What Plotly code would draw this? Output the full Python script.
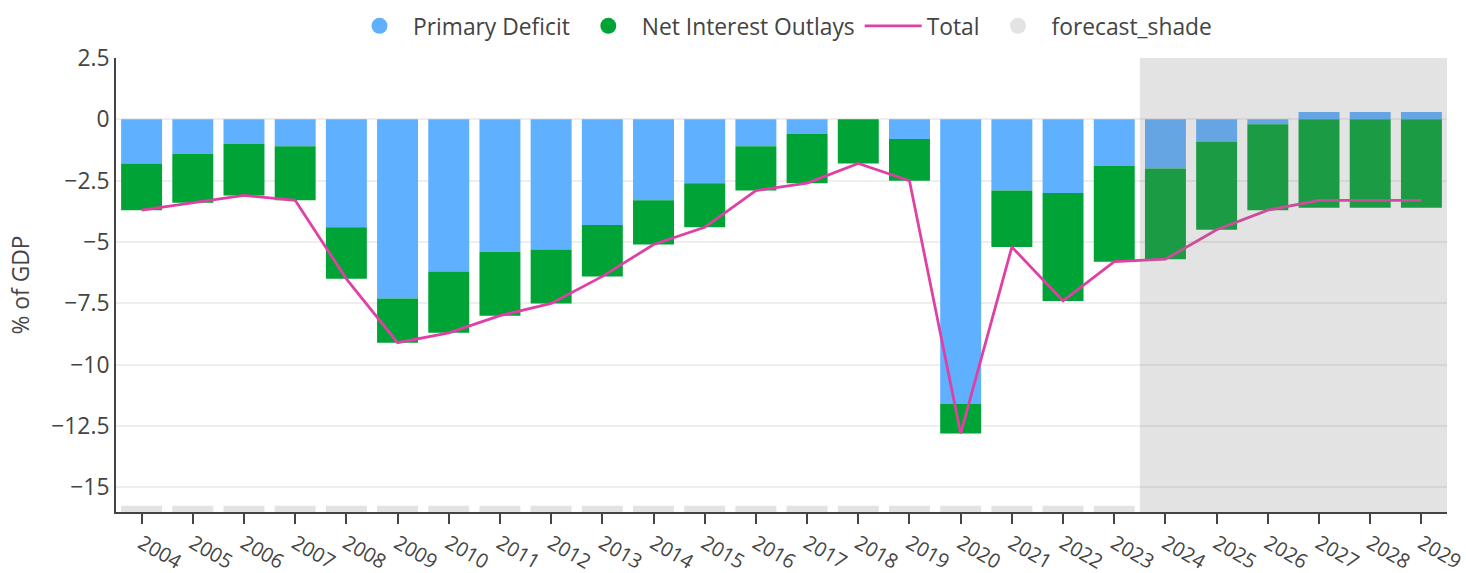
import plotly.graph_objects as go

years = list(range(2004, 2030))
primary_deficit = [-1.8, -1.4, -1.0, -1.1, -4.4, -7.3, -6.2, -5.4, -5.3, -4.3, -3.3, -2.6, -1.1,
                   -0.6, 0.0, -0.8, -11.6, -2.9, -3.0, -1.9, -2.0, -0.9, -0.2, 0.3, 0.3, 0.3]
net_interest = [-1.9, -2.0, -2.1, -2.2, -2.1, -1.8, -2.5, -2.6, -2.2, -2.1, -1.8, -1.8, -1.8,
                -2.0, -1.8, -1.7, -1.2, -2.3, -4.4, -3.9, -3.7, -3.6, -3.5, -3.6, -3.6, -3.6]
total = [-3.7, -3.4, -3.1, -3.3, -6.5, -9.1, -8.7, -8.0, -7.5, -6.4, -5.1, -4.4, -2.9,
         -2.6, -1.8, -2.5, -12.8, -5.2, -7.4, -5.8, -5.7, -4.5, -3.7, -3.3, -3.3, -3.3]
is_forecast = [y >= 2024 for y in years]

y_min, y_max = -16, 2.5
shade_height = [(y_max - y_min) if f else 0.25 for f in is_forecast]
shade_width = [1.0 if f else 0.8 for f in is_forecast]

BLUE = "#5fb0ff"
GREEN = "#00a335"
PINK = "#e040a4"
SHADE = "rgba(128,128,128,0.22)"
FS = 22.8

fig = go.Figure()
fig.add_trace(go.Bar(x=years, y=primary_deficit, name="Primary Deficit",
                     marker=dict(color=BLUE, line=dict(width=0)), showlegend=False))
fig.add_trace(go.Bar(x=years, y=net_interest, name="Net Interest Outlays",
                     marker=dict(color=GREEN, line=dict(width=0)), showlegend=False))
fig.add_trace(go.Scatter(x=years, y=total, name="Total", mode="lines",
                         line=dict(color=PINK, width=2.8), legendrank=3))
fig.add_trace(go.Bar(x=years, y=shade_height, base=[y_min] * len(years), width=shade_width,
                     name="forecast_shade", marker=dict(color=SHADE, line=dict(width=0)),
                     yaxis="y2", showlegend=False))

# legend entries
for nm, col, rk in [("Primary Deficit", BLUE, 1), ("Net Interest Outlays", GREEN, 2),
                    ("forecast_shade", "#e3e3e3", 4)]:
    fig.add_trace(go.Scatter(x=[None], y=[None], mode="markers", name=nm,
                             marker=dict(color=col, size=16), legendrank=rk))

fig.update_layout(
    width=1466, height=573,
    barmode="relative",
    bargap=0.2,
    paper_bgcolor="white", plot_bgcolor="white",
    font=dict(family="Open Sans", size=FS, color="#444"),
    margin=dict(l=116, r=19, t=58, b=61),
    legend=dict(orientation="h", x=0.5, xanchor="center", xref="paper",
                yref="container", y=1 - 26 / 573, yanchor="middle",
                font=dict(size=FS), itemwidth=57),
    xaxis=dict(showline=True, linecolor="#444", linewidth=2, ticks="outside",
               tickcolor="#444", ticklen=10, tickwidth=2, automargin=False,
               tickfont=dict(size=20, color="#444"), ticklabeloverflow="allow",
               tickmode="array", tickvals=years, ticktext=[str(y) for y in years],
               tickangle=30, showgrid=False, range=[years[0] - 0.5, years[-1] + 0.5]),
    yaxis=dict(showline=True, linecolor="#444", linewidth=2, ticks="",
               tickfont=dict(size=FS, color="#444"), automargin=False,
               range=[y_min, y_max], dtick=2.5, tick0=0, showgrid=True,
               gridcolor="#eeeeee", gridwidth=2, zeroline=False,
               title=dict(text="% of GDP", font=dict(size=FS, color="#444"))),
    yaxis2=dict(overlaying="y", range=[y_min, y_max], visible=False),
)

fig.write_html("out.html", config={"displayModeBar": False},
               post_script="document.body.style.margin='0';")
